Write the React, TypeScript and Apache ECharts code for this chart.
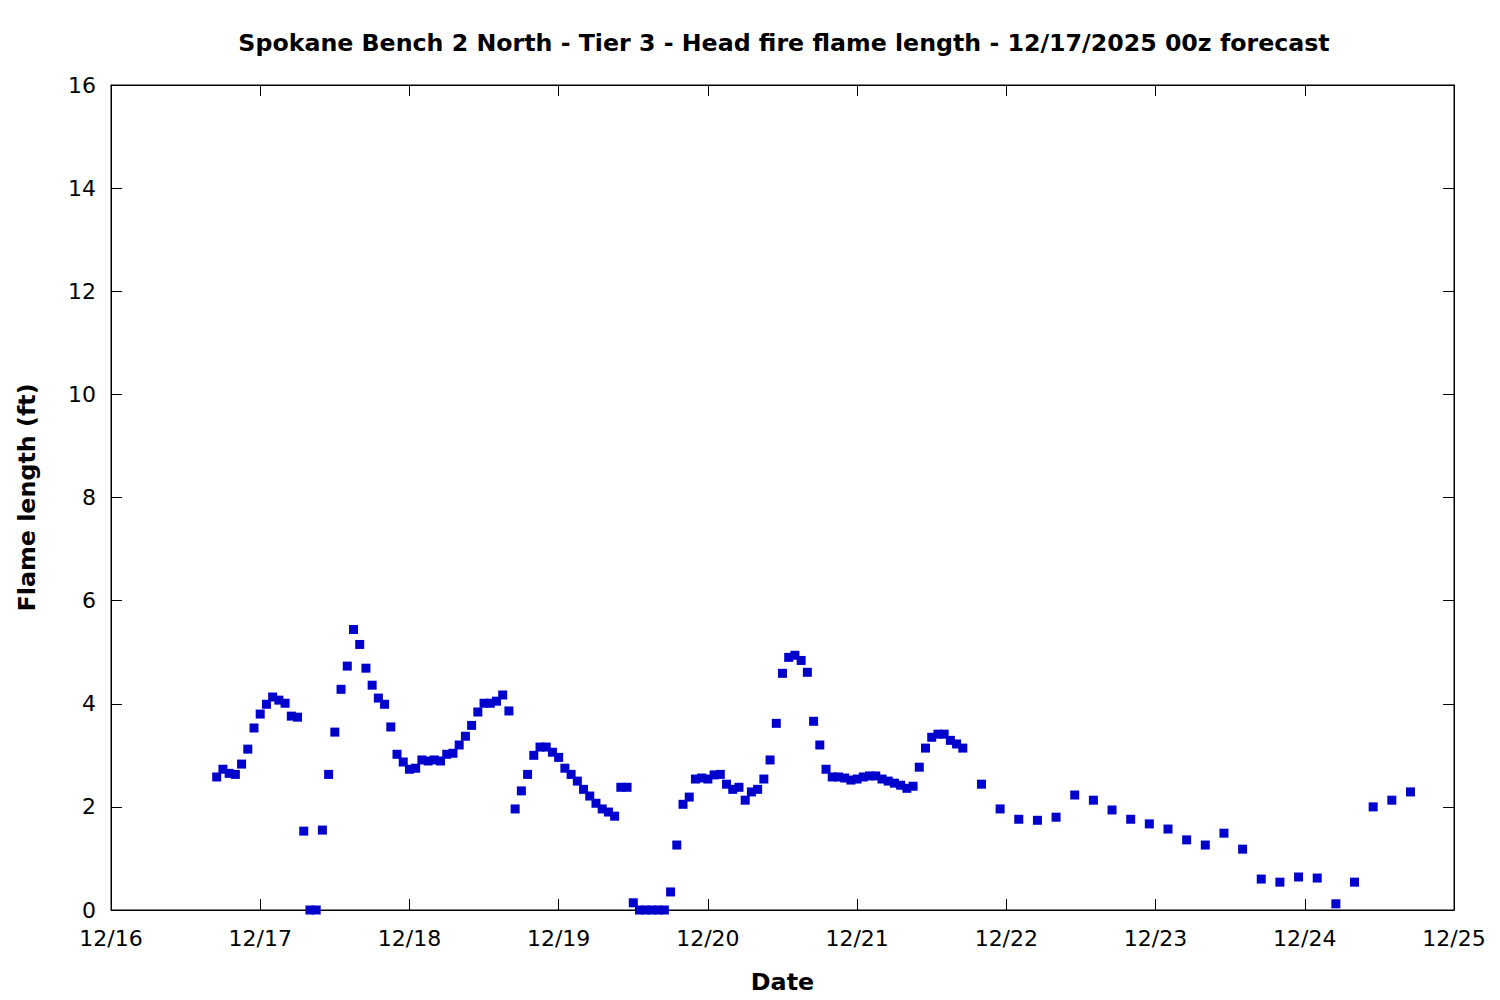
import React, { useEffect, useRef } from "react";
import * as echarts from "echarts";

// Hours since 12/16 00z for each forecast value
const hourlyStartHour = 17; // 12/16 17z, hourly
const hourlyValues = [
  2.58, 2.73, 2.65, 2.63, 2.83, 3.12, 3.53, 3.8, 3.99, 4.13, 4.07, 4.01, 3.76, 3.74,
  1.53, 0, 0, 1.55, 2.63, 3.45, 4.28, 4.73, 5.44, 5.15, 4.69, 4.36, 4.11, 3.99, 3.55,
  3.02, 2.87, 2.73, 2.75, 2.91, 2.89, 2.91, 2.89, 3.02, 3.04, 3.2, 3.37, 3.58, 3.84,
  4.01, 4.01, 4.05, 4.17, 3.86, 1.96, 2.31, 2.63, 3.0, 3.16, 3.16, 3.06, 2.96, 2.75,
  2.63, 2.5, 2.34, 2.21, 2.07, 1.96, 1.9, 1.82, 2.38, 2.38, 0.14, 0, 0, 0, 0, 0, 0.35,
  1.26, 2.05, 2.19, 2.54, 2.56, 2.54, 2.62, 2.63, 2.44, 2.34, 2.38, 2.13, 2.29, 2.34,
  2.54, 2.91, 3.62, 4.59, 4.9, 4.94, 4.84, 4.61, 3.66, 3.2, 2.73, 2.58, 2.58, 2.56,
  2.52, 2.54, 2.58, 2.6, 2.6, 2.54, 2.5, 2.46, 2.42, 2.36, 2.4, 2.77, 3.14, 3.35, 3.41,
  3.41, 3.29, 3.22, 3.14,
];
const threeHourlyStartHour = 140; // 12/21 20z, every 3 hours
const threeHourlyValues = [
  2.44, 1.96, 1.76, 1.74, 1.8, 2.23, 2.13, 1.94, 1.76, 1.67, 1.57, 1.36, 1.26, 1.49,
  1.18, 0.6, 0.54, 0.64, 0.62, 0.12, 0.54, 2.0, 2.13, 2.29,
];
const dayLabels = ["12/16", "12/17", "12/18", "12/19", "12/20", "12/21", "12/22", "12/23", "12/24", "12/25"];
const yTicks = [0, 2, 4, 6, 8, 10, 12, 14, 16];

const TITLE = "Spokane Bench 2 North - Tier 3 - Head fire flame length - 12/17/2025 00z forecast";

export default function App() {
  const ref = useRef<HTMLDivElement>(null);
  useEffect(() => {
    if (!ref.current) return;
    const chart = echarts.init(ref.current, null, { renderer: "svg" });
    const points: number[][] = [];
    hourlyValues.forEach((v, i) => points.push([hourlyStartHour + i, v]));
    threeHourlyValues.forEach((v, i) => points.push([threeHourlyStartHour + 3 * i, v]));
    const font = "DejaVu Sans";
    const tickStyle = { show: true, inside: true, length: 11, lineStyle: { color: "#000", width: 1 } };
    const xBase = {
      type: "value" as const,
      min: 0,
      max: 216,
      interval: 24,
      splitLine: { show: false },
      axisLine: { show: true, onZero: false, lineStyle: { color: "#000", width: 1 } },
      axisTick: tickStyle,
    };
    const yBase = {
      type: "value" as const,
      min: 0,
      max: 16,
      interval: 2,
      splitLine: { show: false },
      axisLine: { show: true, onZero: false, lineStyle: { color: "#000", width: 1 } },
      axisTick: tickStyle,
    };
    chart.setOption({
      animation: false,
      backgroundColor: "#fff",
      title: {
        text: TITLE,
        left: 779,
        top: 26,
        textAlign: "center",
        textStyle: { fontFamily: font, fontWeight: "bold", fontSize: 23.7, color: "#000" },
      },
      grid: {
        left: 111,
        right: 46,
        top: 85,
        bottom: 90,
        show: true,
        borderColor: "#000",
        borderWidth: 1,
        containLabel: false,
        outerBoundsMode: "none",
      },
      xAxis: [
        {
          ...xBase,
          position: "bottom",
          name: "Date",
          nameLocation: "middle",
          nameGap: 60,
          nameTextStyle: { fontFamily: font, fontWeight: "bold", fontSize: 23.8, color: "#000" },
          axisLabel: {
            show: true,
            margin: 17,
            fontFamily: font,
            fontSize: 22,
            color: "#000",
            formatter: (v: number) => dayLabels[Math.round(v / 24)] ?? "",
          },
        },
        { ...xBase, position: "top", axisLabel: { show: false } },
      ],
      yAxis: [
        {
          ...yBase,
          position: "left",
          name: "Flame length (ft)",
          nameLocation: "middle",
          nameRotate: 90,
          nameGap: 72,
          nameTextStyle: { fontFamily: font, fontWeight: "bold", fontSize: 23.8, color: "#000" },
          axisLabel: {
            show: true,
            margin: 15,
            fontFamily: font,
            fontSize: 22,
            color: "#000",
            formatter: (v: number) => (yTicks.includes(v) ? String(v) : ""),
          },
        },
        { ...yBase, position: "right", axisLabel: { show: false } },
      ],
      series: [
        {
          type: "scatter",
          data: points,
          symbol: "rect",
          symbolSize: 9,
          itemStyle: { color: "#0000CC", opacity: 1 },
          xAxisIndex: 0,
          yAxisIndex: 0,
        },
      ],
    });
    return () => chart.dispose();
  }, []);
  return <div ref={ref} style={{ position: "absolute", left: 0, top: 0, width: 1500, height: 1000 }} />;
}
